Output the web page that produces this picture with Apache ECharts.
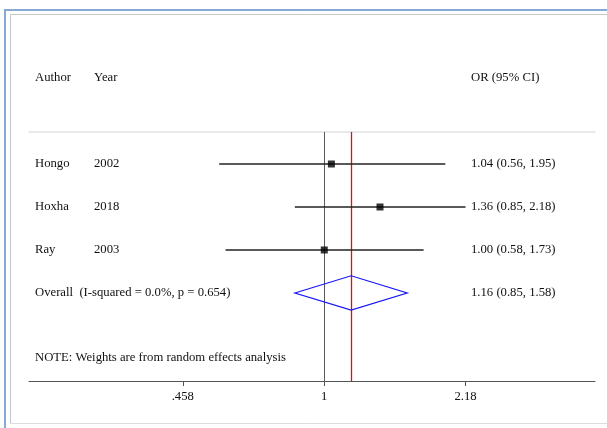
<!DOCTYPE html>
<html>
<head>
<meta charset="utf-8">
<script src="https://cdn.jsdelivr.net/npm/echarts@6/dist/echarts.min.js"></script>
<style>
  html, body { margin: 0; padding: 0; background: #fff; }
  #chart { width: 607px; height: 428px; }
</style>
</head>
<body>
<div id="chart"></div>
<script>
// Study-level odds ratios with 95% confidence intervals
const authors = ['Hongo', 'Hoxha', 'Ray'];
const years = ['2002', '2018', '2003'];
const orEst = [1.04, 1.36, 1.00];
const ciLow = [0.56, 0.85, 0.58];
const ciHigh = [1.95, 2.18, 1.73];

// Pooled (random effects) estimate
const pooledEst = 1.16;
const pooledLow = 0.85;
const pooledHigh = 1.58;
const overallLabel = 'Overall  (I-squared = 0.0%, p = 0.654)';
const noteText = 'NOTE: Weights are from random effects analysis';

// Axis ticks (log scale)
const tickValues = [0.458, 1, 2.18];
const tickLabels = ['.458', '1', '2.18'];

// Row positions (study rows 1..3, overall 4)
const studyRows = [1, 2, 3];
const overallRow = 4;
const headerRow = -1;
const noteRow = 5.5;
const nullValue = 1;
const rowMin = 0.256;
const rowMax = 6.047;

const FONT = 'Liberation Serif';
const FS = 12.7;
const TXT = '#111';

const fmt = v => v.toFixed(2);
const ciText = (e, l, h) => fmt(e) + ' (' + fmt(l) + ', ' + fmt(h) + ')';

const chart = echarts.init(document.getElementById('chart'), null, { renderer: 'canvas' });

const textRows = [];
textRows.push([headerRow, 'Author', 'Year', 'OR (95% CI)']);
authors.forEach((a, i) => textRows.push([studyRows[i], a, years[i], ciText(orEst[i], ciLow[i], ciHigh[i])]));
textRows.push([overallRow, overallLabel, '', ciText(pooledEst, pooledLow, pooledHigh)]);
textRows.push([noteRow, noteText, '', '']);

function txt(x, y, s) {
  return {
    type: 'text',
    style: { x: x, y: y, text: s, fill: TXT, font: FS + 'px "' + FONT + '"', textAlign: 'left', textVerticalAlign: 'middle' }
  };
}

// vertical reference line spanning the plot rows
function refLineSeries(value, color, width) {
  return {
    type: 'custom',
    data: [[value]],
    renderItem: (params, api) => {
      const p1 = api.coord([api.value(0), rowMin]);
      const p2 = api.coord([api.value(0), rowMax]);
      const x = Math.round(p1[0]) + 0.5;
      return {
        type: 'line',
        shape: { x1: x, y1: p1[1], x2: x, y2: p2[1] },
        style: { stroke: color, lineWidth: width }
      };
    },
    z: 1
  };
}

const option = {
  animation: false,
  grid: { left: 29, right: 12, top: 132, bottom: 47 },
  xAxis: [{
    type: 'log',
    min: 0.196,
    max: 4.455,
    axisLine: { show: true, lineStyle: { color: '#555', width: 1 } },
    axisTick: { show: true, customValues: tickValues, length: 5, lineStyle: { color: '#555' } },
    axisLabel: {
      show: true, customValues: tickValues, margin: 9,
      fontFamily: FONT, fontSize: FS, color: TXT,
      formatter: v => {
        const i = tickValues.findIndex(t => Math.abs(t - v) < 1e-6);
        return i >= 0 ? tickLabels[i] : '';
      }
    },
    splitLine: { show: false },
    minorTick: { show: false }
  }, {
    type: 'log',
    position: 'top',
    min: 0.196,
    max: 4.455,
    axisLine: { show: true, lineStyle: { color: '#e2e2e2', width: 1.5 } },
    axisTick: { show: false },
    axisLabel: { show: false },
    splitLine: { show: false }
  }],
  yAxis: {
    type: 'value',
    inverse: true,
    min: rowMin,
    max: rowMax,
    show: false
  },
  series: [
    refLineSeries(nullValue, '#5a5a5a', 1),
    refLineSeries(pooledEst, '#ff0000', 1.3),
    {
      // confidence interval whiskers
      type: 'custom',
      data: studyRows.map((r, i) => [ciLow[i], ciHigh[i], r]),
      renderItem: (params, api) => {
        const p1 = api.coord([api.value(0), api.value(2)]);
        const p2 = api.coord([api.value(1), api.value(2)]);
        return {
          type: 'line',
          shape: { x1: p1[0], y1: p1[1], x2: p2[0], y2: p2[1] },
          style: { stroke: '#222', lineWidth: 1.7 }
        };
      },
      z: 2
    },
    {
      // point estimates
      type: 'scatter',
      data: studyRows.map((r, i) => [orEst[i], r]),
      symbol: 'rect',
      symbolSize: 7,
      itemStyle: { color: '#000' },
      z: 4
    },
    {
      // pooled estimate diamond
      type: 'custom',
      data: [[pooledLow, pooledEst, pooledHigh, overallRow]],
      renderItem: (params, api) => {
        const r = api.value(3);
        const L = api.coord([api.value(0), r]);
        const T = api.coord([api.value(1), r - 0.4]);
        const R = api.coord([api.value(2), r]);
        const B = api.coord([api.value(1), r + 0.4]);
        return {
          type: 'polygon',
          shape: { points: [L, T, R, B] },
          style: { fill: 'none', stroke: '#1414ff', lineWidth: 1.2 }
        };
      },
      z: 5
    },
    {
      // text columns
      type: 'custom',
      data: textRows,
      clip: false,
      renderItem: (params, api) => {
        const row = textRows[params.dataIndex];
        const y = api.coord([1, row[0]])[1];
        const children = [txt(35, y, row[1])];
        if (row[2]) children.push(txt(94, y, row[2]));
        if (row[3]) children.push(txt(471, y, row[3]));
        return { type: 'group', children: children };
      },
      z: 6
    }
  ],
  graphic: [
    // outer blue frame
    { type: 'line', shape: { x1: 5, y1: 9, x2: 5, y2: 428 }, style: { stroke: '#86a9d6', lineWidth: 2 }, silent: true },
    { type: 'line', shape: { x1: 4, y1: 10, x2: 607, y2: 10 }, style: { stroke: '#86a9d6', lineWidth: 2 }, silent: true },
    // inner grey frame
    { type: 'line', shape: { x1: 10.5, y1: 14.5, x2: 10.5, y2: 423.5 }, style: { stroke: '#c6c6c6', lineWidth: 1 }, silent: true },
    { type: 'line', shape: { x1: 10.5, y1: 14.5, x2: 607, y2: 14.5 }, style: { stroke: '#c6c6c6', lineWidth: 1 }, silent: true },
    { type: 'line', shape: { x1: 10.5, y1: 423.5, x2: 607, y2: 423.5 }, style: { stroke: '#dcdcdc', lineWidth: 1 }, silent: true }
  ]
};

chart.setOption(option);
</script>
</body>
</html>
